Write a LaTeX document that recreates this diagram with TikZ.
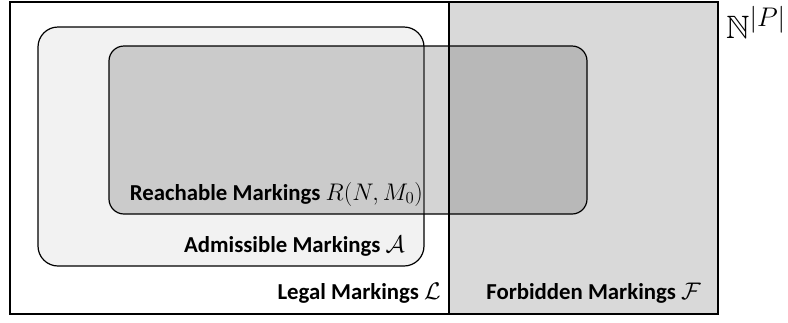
\RequirePackage{fix-cm}
\documentclass[tikz,border=0pt]{standalone}
\usepackage{amssymb}
\usepackage{graphicx}
\usepackage{fontspec}
\setmainfont{Carlito}
\newcommand{\mth}[1]{{\fontsize{24}{28}\selectfont$#1$}}
\begin{document}
\begin{tikzpicture}[x=1pt,y=-1pt,
  frame/.style={draw=black,line width=1.8pt},
  setbox/.style={draw=black,line width=1.2pt},
  lbl/.style={inner sep=0pt,anchor=base east,font=\bfseries\fontsize{22.8}{26}\selectfont}]
\useasboundingbox (0,0) rectangle (788,322);
% outer space and forbidden region
\fill[white] (10,2) rectangle (718,314);
\fill[black!15] (449,2) rectangle (718,314);
% admissible
\draw[setbox,fill=black!5,rounded corners=20pt] (38,27) rectangle (424,266);
% reachable (semi-transparent)
\fill[black!60,fill opacity=0.28,rounded corners=15pt] (109,46) rectangle (587,214);
\draw[setbox,rounded corners=15pt] (109,46) rectangle (587,214);
% region borders
\draw[frame] (449,2) -- (449,314);
\draw[frame] (10,2) rectangle (718,314);
% labels
\node[lbl] (reach) at (423,200) {Reachable Markings \mth{R(N,M_0)}};
\node[lbl] (adm) at (405,252) {Admissible Markings \mth{\mathcal{A}}};
\node[lbl] (legal) at (441,299) {Legal Markings \mth{\mathcal{L}}};
\node[lbl] (forb) at (701,299) {Forbidden Markings \mth{\mathcal{F}}};
\node[inner sep=0pt,anchor=base west,font=\fontsize{24.88}{28}\selectfont] (space) at (726,38) {\scalebox{1.3}{$\mathbb{N}^{|P|}$}};
\end{tikzpicture}
\end{document}
